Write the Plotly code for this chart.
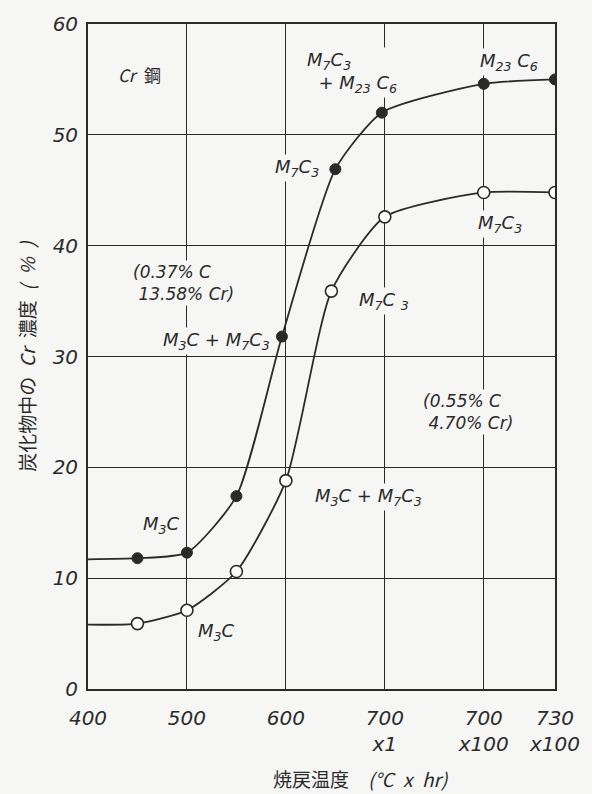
import plotly.graph_objects as go

# Axis positions (temperature scale) and tick labels
tick_pos = [400, 500, 600, 700, 800, 872]
tick_text = ["400", "500", "600", "700<br>x1", "700<br>x100", "730<br>x100"]
y_ticks = [0, 10, 20, 30, 40, 50, 60]

# Steel A (0.37% C, 13.58% Cr) - filled circles
a_x = [450, 500, 550, 596, 650, 697, 800, 872]
a_y = [11.8, 12.3, 17.4, 31.8, 46.9, 52.0, 54.6, 55.0]
a_line_x = [400] + a_x
a_line_y = [11.7] + a_y

# Steel B (0.55% C, 4.70% Cr) - open circles
b_x = [450, 500, 550, 600, 646, 700, 800, 872]
b_y = [5.9, 7.1, 10.6, 18.8, 35.9, 42.6, 44.8, 44.8]
b_line_x = [400] + b_x
b_line_y = [5.8] + b_y

INK = "#2a2a2a"
BG = "#f6f6f4"
FONT = "DejaVu Sans, sans-serif"
CJK = "Noto Sans CJK JP, sans-serif"
SP = "\u2002"

fig = go.Figure()
for lx, ly in [(a_line_x, a_line_y), (b_line_x, b_line_y)]:
    fig.add_trace(go.Scatter(x=lx, y=ly, mode="lines",
                             line=dict(color=INK, width=1.8, shape="spline", smoothing=0.6),
                             hoverinfo="skip", showlegend=False))
fig.add_trace(go.Scatter(x=a_x, y=a_y, mode="markers",
                         marker=dict(size=11, color=INK, line=dict(color=INK, width=1)),
                         showlegend=False))
fig.add_trace(go.Scatter(x=b_x, y=b_y, mode="markers",
                         marker=dict(size=12, color="white", line=dict(color=INK, width=1.6)),
                         showlegend=False))

labels = [
    (452, 55.4, "<i>Cr</i>" + SP + "鋼", "center", 17, CJK),
    (667, 55.6, "<i>M<sub>7</sub>C<sub>3</sub><br>  + M<sub>23</sub> C<sub>6</sub></i>", "left", 18, FONT),
    (826, 56.6, "<i>M<sub>23</sub> C<sub>6</sub></i>", "center", 18, FONT),
    (611, 47.0, "<i>M<sub>7</sub>C<sub>3</sub></i>", "center", 18, FONT),
    (497, 36.6, "<i>(0.37% C<br> 13.58% Cr)</i>", "left", 17, FONT),
    (530, 31.4, "<i>M<sub>3</sub>C + M<sub>7</sub>C<sub>3</sub></i>", "center", 18, FONT),
    (474, 14.8, "<i>M<sub>3</sub>C</i>", "center", 18, FONT),
    (699, 35.0, "<i>M<sub>7</sub>C <sub>3</sub></i>", "center", 18, FONT),
    (784, 25.0, "<i>(0.55% C<br> 4.70% Cr)</i>", "left", 17, FONT),
    (683, 17.3, "<i>M<sub>3</sub>C + M<sub>7</sub>C<sub>3</sub></i>", "center", 18, FONT),
    (816, 42.0, "<i>M<sub>7</sub>C<sub>3</sub></i>", "center", 18, FONT),
    (530, 5.1, "<i>M<sub>3</sub>C</i>", "center", 18, FONT),
]
for x, y, t, al, sz, fam in labels:
    fig.add_annotation(x=x, y=y, text=t, showarrow=False, align=al,
                       font=dict(family=fam, size=sz, color=INK),
                       bgcolor=BG, borderpad=1)

x_title = "焼戻温度" + SP * 2 + "<i>(°C" + SP + "x" + SP + "hr)</i>"
fig.add_annotation(x=0.585, y=-0.135, xref="paper", yref="paper",
                   text=x_title, showarrow=False,
                   font=dict(family=CJK, size=19, color=INK), xanchor="center", yanchor="middle")

y_title = "炭化物中の" + SP + "<i>Cr</i>" + SP + "濃度" + SP + "<i>(" + SP + "%" + SP + ")</i>"

fig.update_layout(
    width=592, height=794,
    margin=dict(l=88, r=35, t=18, b=105),
    paper_bgcolor=BG, plot_bgcolor=BG,
    font=dict(family=FONT, color=INK),
    showlegend=False,
)
fig.update_xaxes(range=[400, 872], tickvals=tick_pos,
                 ticktext=["<i>%s</i>" % t for t in tick_text],
                 tickfont=dict(size=20, color=INK), ticks="", ticklen=0,
                 ticklabelstandoff=10,
                 showgrid=True, gridcolor=INK, gridwidth=1.4,
                 showline=True, linecolor=INK, linewidth=1.8, mirror=True, zeroline=False)
fig.update_yaxes(range=[0, 60], tickvals=y_ticks,
                 ticktext=["<i>%d</i>" % v for v in y_ticks],
                 tickfont=dict(size=20, color=INK), ticks="", ticklen=0,
                 ticklabelstandoff=4,
                 showgrid=True, gridcolor=INK, gridwidth=1.4,
                 showline=True, linecolor=INK, linewidth=1.8, mirror=True, zeroline=False,
                 title=dict(text=y_title,
                            font=dict(family=CJK, size=19, color=INK), standoff=12))

fig.write_html("out.html")
